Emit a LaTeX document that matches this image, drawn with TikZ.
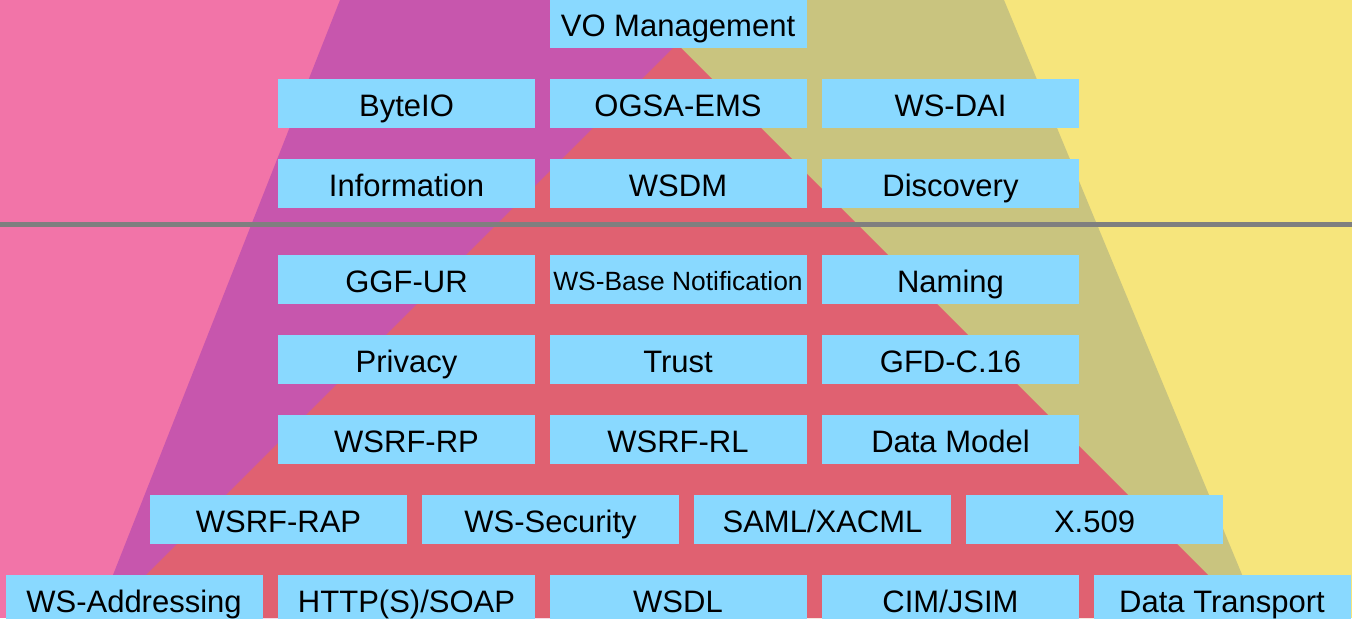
\documentclass[tikz,border=0pt]{standalone}
\usepackage{fontspec}
\setmainfont{Liberation Sans}
\usetikzlibrary{positioning}
\definecolor{pinkbg}{RGB}{242,116,168}
\definecolor{yellowbg}{RGB}{246,229,124}
\definecolor{purpletri}{RGB}{199,86,173}
\definecolor{olivetri}{RGB}{201,196,127}
\definecolor{redtri}{RGB}{224,97,113}
\definecolor{specblue}{RGB}{137,217,255}
\definecolor{dividergray}{RGB}{127,127,127}

\begin{document}
\begin{tikzpicture}[x=0.5pt,y=-0.5pt,
    spec/.style={fill=specblue, inner sep=0pt, minimum width=128.5pt, minimum height=24.5pt,
      text height=12.6pt, text depth=0pt, font=\fontsize{15.5}{18}\selectfont},
    specsmall/.style={spec, text height=10.8pt, font=\fontsize{13.2}{16}\selectfont}]
      \useasboundingbox (0,0) rectangle (1352,618);
      \clip (0,0) rectangle (1352,618);

      % backdrop: two halves, the big split triangle and the red one on top
      \fill[pinkbg]   (0,0)   rectangle (676,618);
      \fill[yellowbg] (676,0) rectangle (1352,618);
      \fill[purpletri] (340,0) -- (676,0) -- (676,618) -- (96,618) -- cycle;
      \fill[olivetri]  (676,0) -- (1004,0) -- (1260,618) -- (676,618) -- cycle;
      \fill[redtri]    (677,44) -- (1251,618) -- (103,618) -- cycle;

      \coordinate (divl) at (0,224);
      \coordinate (divr) at (1352,224);
      \draw[dividergray, line width=2.5pt] (divl) -- (divr);

      \node[spec] (vo)          at (678,23.5)    {VO Management};

      \node[spec] (byteio)      at (406.5,103.5) {ByteIO};
      \node[spec] (ogsaems)     at (678,103.5)   {OGSA-EMS};
      \node[spec] (wsdai)       at (950.5,103.5) {WS-DAI};

      \node[spec] (information) at (406.5,183.5) {Information};
      \node[spec] (wsdm)        at (678,183.5)   {WSDM};
      \node[spec] (discovery)   at (950.5,183.5) {Discovery};

      \node[spec] (ggfur)       at (406.5,279.5) {GGF-UR};
      \node[specsmall] (wsbn)   at (678,279.5)   {WS-Base Notification};
      \node[spec] (naming)      at (950.5,279.5) {Naming};

      \node[spec] (privacy)     at (406.5,359.5) {Privacy};
      \node[spec] (trust)       at (678,359.5)   {Trust};
      \node[spec] (gfdc)        at (950.5,359.5) {GFD-C.16};

      \node[spec] (wsrfrp)      at (406.5,439.5) {WSRF-RP};
      \node[spec] (wsrfrl)      at (678,439.5)   {WSRF-RL};
      \node[spec] (datamodel)   at (950.5,439.5) {Data Model};

      \node[spec] (wsrfrap)     at (278.5,519.5)  {WSRF-RAP};
      \node[spec] (wssecurity)  at (550.5,519.5)  {WS-Security};
      \node[spec] (samlxacml)   at (822.5,519.5)  {SAML/XACML};
      \node[spec] (xfivenine)   at (1094.5,519.5) {X.509};

      \node[spec] (wsaddressing)  at (134,599.5)   {WS-Addressing};
      \node[spec] (httpsoap)      at (406.5,599.5) {HTTP(S)/SOAP};
      \node[spec] (wsdl)          at (678,599.5)   {WSDL};
      \node[spec] (cimjsim)       at (950.5,599.5) {CIM/JSIM};
      \node[spec] (datatransport) at (1222,599.5)  {Data Transport};
    \end{tikzpicture}
\end{document}
